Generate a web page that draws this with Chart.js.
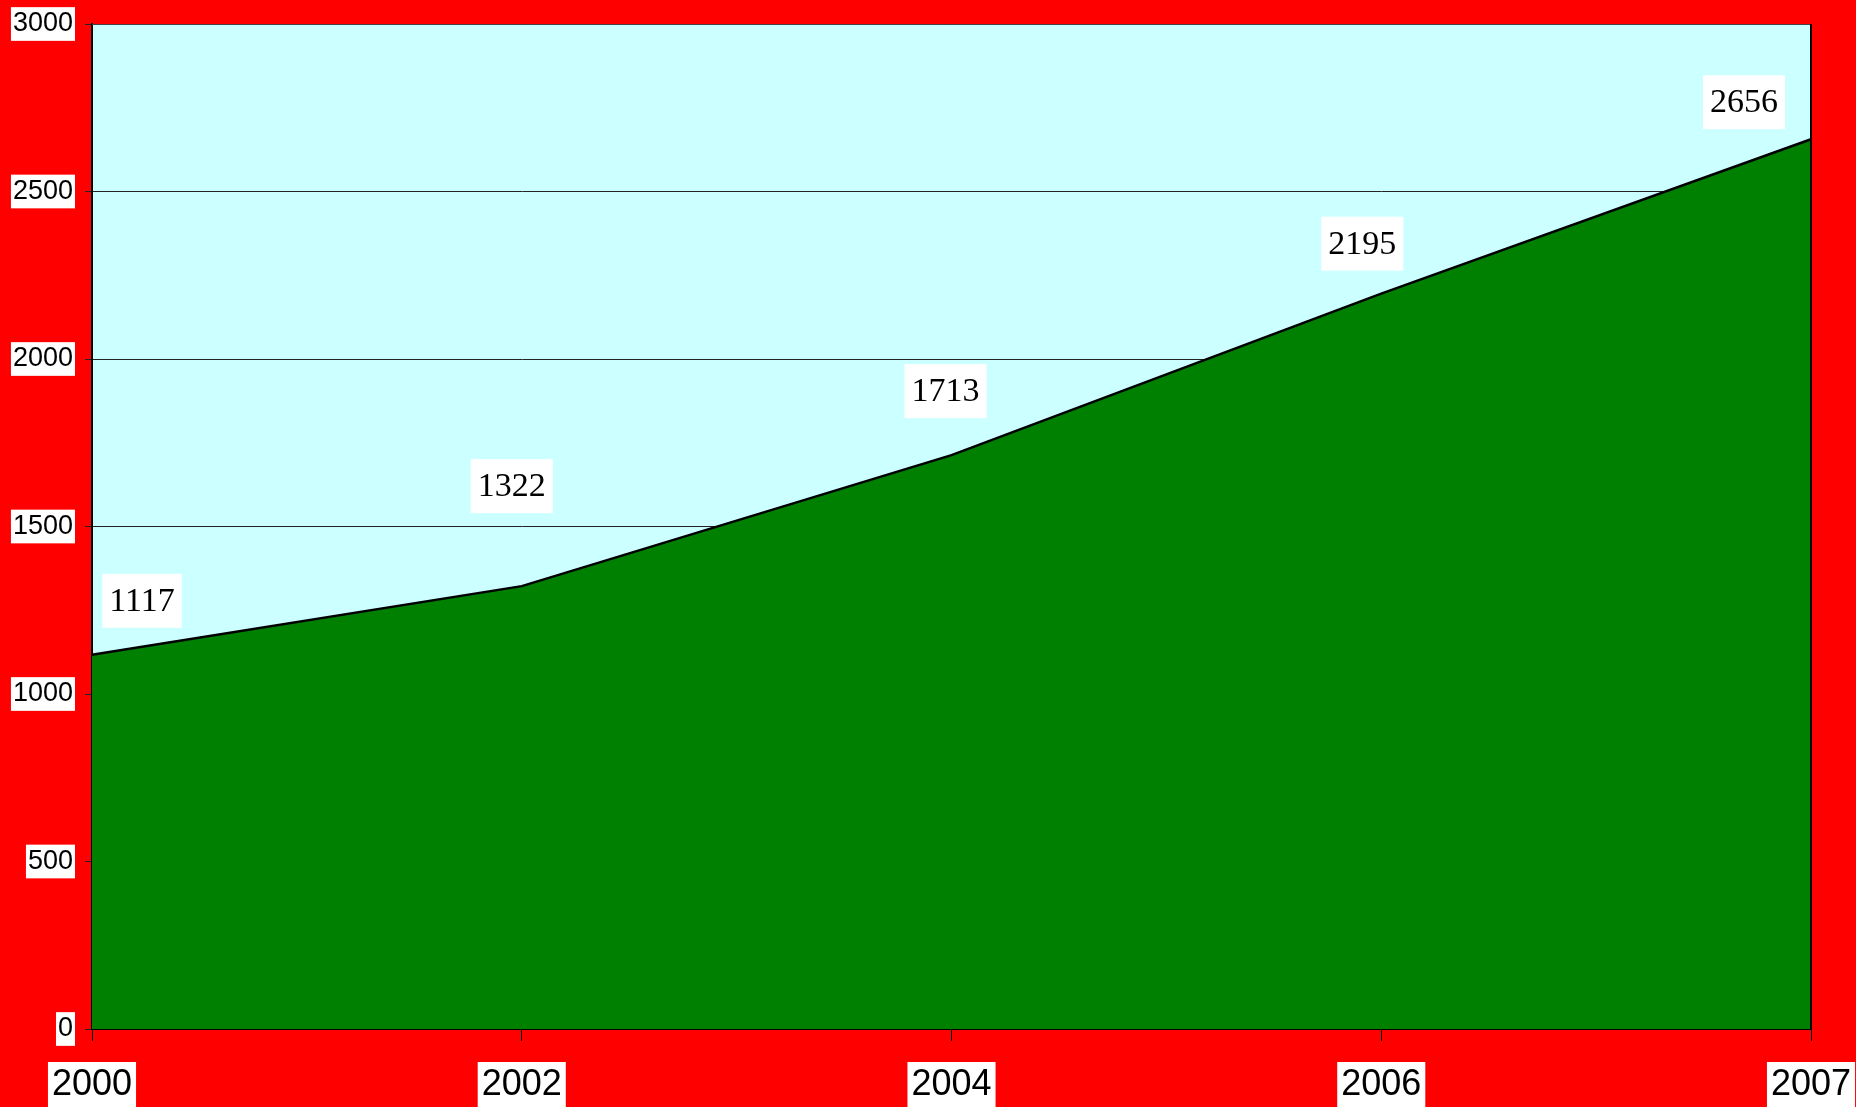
<!DOCTYPE html>
<html>
<head>
<meta charset="utf-8">
<script src="https://cdn.jsdelivr.net/npm/chart.js@4"></script>
<style>
  html, body { margin: 0; padding: 0; background: #ff0000; }
  #wrap { width: 1856px; height: 1107px; }
</style>
</head>
<body>
<div id="wrap"><canvas id="myChart" width="1856" height="1107"></canvas></div>
<script>
// Data
const years = ['2000', '2002', '2004', '2006', '2007'];
const values = [1117, 1322, 1713, 2195, 2656];
const yTicks = [0, 500, 1000, 1500, 2000, 2500, 3000];

// label nudges (px from the point) so value boxes sit like the original
const labelShift = [[50, -54], [-10, -100], [-6, -64], [-19, -50], [-67, -37]];

// plot background + border
const plotFrame = {
    id: 'plotFrame',
    beforeDraw(chart) {
        const a = chart.chartArea, c = chart.ctx;
        c.save();
        c.fillStyle = '#ccffff';
        c.fillRect(a.left, a.top, a.right - a.left, a.bottom - a.top);
        c.restore();
    },
    afterDatasetsDraw(chart) {
        const a = chart.chartArea, c = chart.ctx;
        c.save();
        c.strokeStyle = '#444';
        c.lineWidth = 1;
        c.beginPath();
        c.moveTo(a.left, a.top + 0.5);
        c.lineTo(a.right, a.top + 0.5);
        c.stroke();
        c.strokeStyle = '#000';
        c.lineWidth = 2;
        c.beginPath();
        c.moveTo(a.right, a.top);
        c.lineTo(a.right, a.bottom);
        c.stroke();
        c.restore();
    }
};

// white boxed value labels
const valueLabels = {
    id: 'valueLabels',
    afterDatasetsDraw(chart) {
        const c = chart.ctx;
        const pts = chart.getDatasetMeta(0).data;
        c.save();
        c.font = '34px "Liberation Serif", serif';
        c.textAlign = 'center';
        c.textBaseline = 'middle';
        pts.forEach((p, i) => {
            const txt = String(values[i]);
            const cx = p.x + labelShift[i][0];
            const cy = p.y + labelShift[i][1];
            const w = c.measureText(txt).width + 14;
            const h = 54;
            c.fillStyle = '#ffffff';
            c.fillRect(cx - w / 2, cy - h / 2, w, h);
            c.fillStyle = '#000000';
            c.fillText(txt, cx, cy + 1);
        });
        c.restore();
    }
};

const ctx = document.getElementById('myChart').getContext('2d');
const config = {
    type: 'line',
    data: {
        labels: years,
        datasets: [{
            data: values,
            fill: 'origin',
            backgroundColor: '#008000',
            borderColor: '#000000',
            borderWidth: 2.5,
            pointRadius: 0,
            tension: 0
        }]
    },
    options: {
        responsive: false,
        animation: false,
        layout: {
            padding: { top: 24, right: 45, left: 0, bottom: 0 }
        },
        plugins: {
            legend: { display: false },
            tooltip: { enabled: false }
        },
        scales: {
            x: {
                offset: false,
                grid: {
                    drawOnChartArea: false,
                    drawTicks: true,
                    tickLength: 12,
                    color: '#000',
                    lineWidth: 1
                },
                border: { color: '#000', width: 2 },
                ticks: {
                    color: '#000',
                    padding: 22,
                    maxRotation: 0,
                    autoSkip: false,
                    font: { family: '"Liberation Sans", Arial, sans-serif', size: 36 },
                    showLabelBackdrop: true,
                    backdropColor: '#ffffff',
                    backdropPadding: { top: 1, bottom: 1, left: 4, right: 4 }
                },
                afterFit(scale) {
                    scale.height = 78;
                    scale.paddingLeft = 0;
                    scale.paddingRight = 0;
                }
            },
            y: {
                min: 0,
                max: 3000,
                afterBuildTicks(scale) {
                    scale.ticks = yTicks.map(v => ({ value: v }));
                },
                grid: {
                    color: '#222',
                    lineWidth: 1,
                    tickLength: 7
                },
                border: { color: '#000', width: 2 },
                ticks: {
                    color: '#000',
                    padding: 12,
                    callback: (v) => String(v),
                    font: { family: '"Liberation Sans", Arial, sans-serif', size: 27, lineHeight: 1.1 },
                    showLabelBackdrop: true,
                    backdropColor: '#ffffff',
                    backdropPadding: 2
                },
                afterFit(scale) {
                    scale.width = 92;
                    scale.paddingTop = 0;
                    scale.paddingBottom = 0;
                }
            }
        }
    },
    plugins: [plotFrame, valueLabels]
};

const myChart = new Chart(ctx, config);
</script>
</body>
</html>
